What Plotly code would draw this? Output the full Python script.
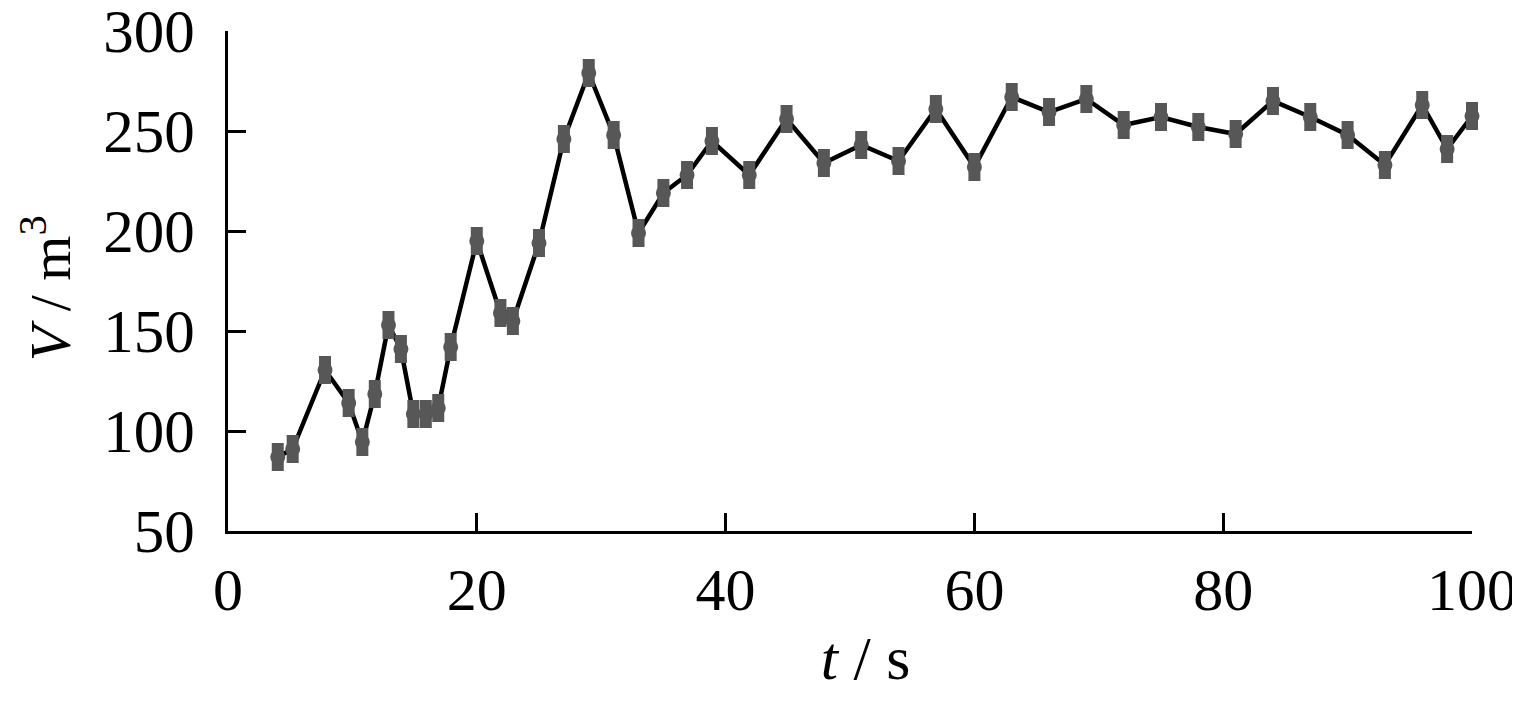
import plotly.graph_objects as go

t_values = [4, 5.2, 7.8, 9.7, 10.8, 11.8, 12.9, 13.9, 14.9, 15.9, 16.9, 17.9, 20, 21.9, 22.9,
            25, 27, 29, 31, 33, 35, 36.9, 38.9, 41.9, 44.9, 47.9, 50.9, 53.9, 56.9, 60,
            63, 66, 69, 72, 75, 78, 81, 84, 87, 90, 93, 96, 98, 100]
v_values = [87, 91, 130.5, 114, 94.5, 118.5, 153, 141, 108.5, 108.5, 111.5, 142, 195, 159, 155,
            194, 246, 279, 248, 199, 219, 228, 245, 228, 256, 234, 243, 235, 261, 232,
            267, 259.5, 266, 253, 257, 252, 248.5, 265, 257, 248, 233, 263, 241, 257.5]
x_ticks = [0, 20, 40, 60, 80, 100]
y_ticks = [50, 100, 150, 200, 250, 300]

FONT = "Liberation Serif"
GRAY = "#575757"

fig = go.Figure()
fig.add_trace(go.Scatter(x=t_values, y=v_values, mode="lines", cliponaxis=False,
                         line=dict(color="black", width=4.5), hoverinfo="skip"))
fig.add_trace(go.Scatter(x=t_values, y=v_values, mode="markers", cliponaxis=False,
                         marker=dict(symbol="line-ns", size=20, color=GRAY,
                                     line=dict(color=GRAY, width=12))))
fig.add_trace(go.Scatter(x=t_values, y=v_values, mode="markers", cliponaxis=False,
                         marker=dict(symbol="circle", size=15, color=GRAY,
                                     line=dict(width=0))))

axis_common = dict(showgrid=False, zeroline=False, showline=True, linecolor="black",
                   linewidth=3, ticks="inside", ticklen=18, tickwidth=3, tickcolor="black",
                   automargin=False, ticklabeloverflow="allow")

fig.update_layout(
    width=1512, height=693, showlegend=False,
    paper_bgcolor="white", plot_bgcolor="white",
    margin=dict(l=220, r=48, t=23, b=170),
    xaxis=dict(range=[0, 100], tickvals=x_ticks, ticktext=[str(v) for v in x_ticks],
               tickfont=dict(family=FONT, size=60, color="black"),
               title=dict(text="&nbsp;&nbsp;<i>t</i> / s", font=dict(family=FONT, size=62, color="black"),
                          standoff=14),
               ticklabelstandoff=4, **axis_common),
    yaxis=dict(range=[50, 300], tickvals=y_ticks, ticktext=[str(v) for v in y_ticks],
               tickfont=dict(family=FONT, size=61, color="black"),
               title=dict(text="<i>V</i> / m<sup>3</sup>&nbsp;", font=dict(family=FONT, size=58, color="black"),
                          standoff=14),
               ticklabelstandoff=18, **axis_common),
)
fig.write_html("out.html")
